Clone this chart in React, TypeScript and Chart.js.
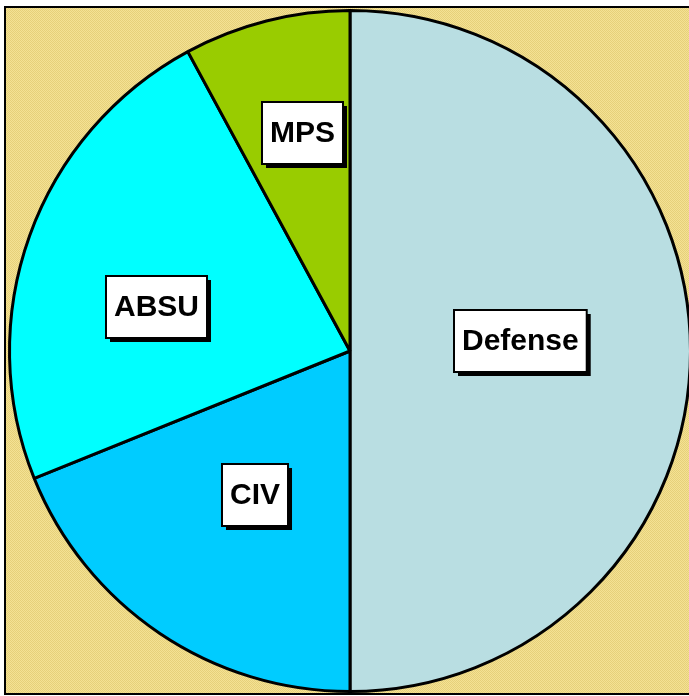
import React, { useEffect, useRef } from "react";
import { Chart, registerables } from "chart.js";

Chart.register(...registerables);

const categories = ["Defense", "CIV", "ABSU", "MPS"];
const shares = [50, 18.9, 23.2, 7.9];
const sliceColors = ["#B9DEE2", "#00CCFF", "#00FFFF", "#99CC00"];
// label placement: [fraction of radius, angle offset in degrees from slice middle]
const labelPlacement: [number, number][] = [
  [0.5, -3.4],
  [0.506, -0.6],
  [0.583, -6.9],
  [0.656, 2.0],
];

function makePattern(ctx: CanvasRenderingContext2D) {
  const c = document.createElement("canvas");
  c.width = 2;
  c.height = 2;
  const p = c.getContext("2d")!;
  p.fillStyle = "#F4E294";
  p.fillRect(0, 0, 2, 2);
  p.fillStyle = "#E6D07A";
  p.fillRect(0, 0, 1, 1);
  p.fillRect(1, 1, 1, 1);
  return ctx.createPattern(c, "repeat");
}

const framePlugin = {
  id: "frame",
  beforeDraw(chart: any) {
    const ctx: CanvasRenderingContext2D = chart.ctx;
    ctx.save();
    ctx.fillStyle = "#FFFFFF";
    ctx.fillRect(0, 0, chart.width, chart.height);
    const pat = makePattern(ctx);
    ctx.fillStyle = pat || "#EFDB85";
    ctx.fillRect(5, 7, chart.width, 687);
    ctx.strokeStyle = "#000000";
    ctx.lineWidth = 2;
    ctx.strokeRect(5, 7, chart.width + 10, 687);
    ctx.restore();
  },
};

const labelPlugin = {
  id: "boxLabels",
  afterDatasetsDraw(chart: any) {
    const ctx: CanvasRenderingContext2D = chart.ctx;
    const meta = chart.getDatasetMeta(0);
    ctx.save();
    ctx.font = "bold 30px 'Liberation Sans', Arial, sans-serif";
    ctx.textAlign = "center";
    ctx.textBaseline = "middle";
    meta.data.forEach((arc: any, i: number) => {
      const { x, y, startAngle, endAngle, outerRadius } = arc.getProps(
        ["x", "y", "startAngle", "endAngle", "outerRadius"],
        true
      );
      const [frac, off] = labelPlacement[i];
      const a = (startAngle + endAngle) / 2 + (off * Math.PI) / 180;
      const cx = x + Math.cos(a) * outerRadius * frac;
      const cy = y + Math.sin(a) * outerRadius * frac;
      const text = categories[i];
      const tw = ctx.measureText(text).width;
      const w = tw + 16;
      const h = 62;
      const bx = Math.round(cx - w / 2);
      const by = Math.round(cy - h / 2);
      ctx.fillStyle = "#000000";
      ctx.fillRect(bx + 4, by + 4, w, h);
      ctx.fillStyle = "#FFFFFF";
      ctx.fillRect(bx, by, w, h);
      ctx.strokeStyle = "#000000";
      ctx.lineWidth = 2;
      ctx.strokeRect(bx, by, w, h);
      ctx.fillStyle = "#000000";
      ctx.fillText(text, bx + w / 2, by + h / 2 + 1);
    });
    ctx.restore();
  },
};

export default function App() {
  const ref = useRef<HTMLCanvasElement>(null);
  useEffect(() => {
    if (!ref.current) return;
    const chart = new Chart(ref.current, {
      type: "pie",
      data: {
        labels: categories,
        datasets: [
          {
            data: shares,
            backgroundColor: sliceColors,
            borderColor: "#000000",
            borderWidth: 3,
          },
        ],
      },
      options: {
        animation: false,
        responsive: false,
        maintainAspectRatio: false,
        layout: { padding: { left: 8, right: 8, top: 9, bottom: 3 } },
        plugins: {
          legend: { display: false },
          tooltip: { enabled: false },
          title: { display: false },
        },
      },
      plugins: [framePlugin, labelPlugin],
    });
    return () => chart.destroy();
  }, []);
  return (
    <div
      style={{
        position: "absolute",
        left: 0,
        top: 0,
        width: 689,
        height: 696,
        overflow: "hidden",
      }}
    >
      <canvas ref={ref} width={700} height={696} style={{ display: "block" }} />
    </div>
  );
}
